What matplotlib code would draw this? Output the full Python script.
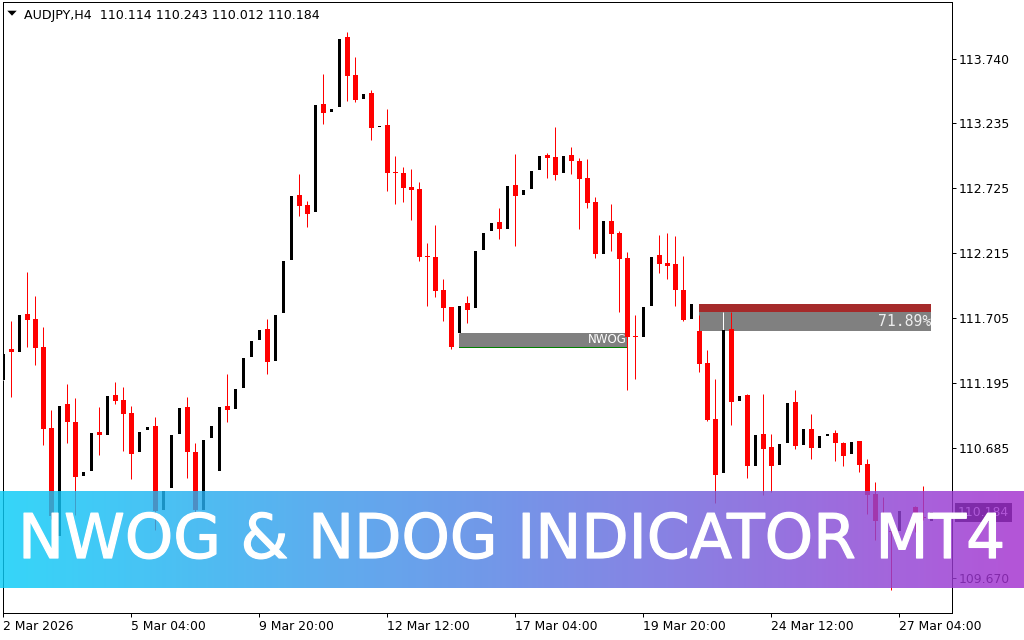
import numpy as np
import matplotlib
matplotlib.use("Agg")
import matplotlib.pyplot as plt
from matplotlib.patches import Rectangle, Polygon
from matplotlib import patheffects

symbol = "AUDJPY,H4"
last_ohlc = [110.114, 110.243, 110.012, 110.184]

# H4 bars (bull wicks are drawn white in MT4, so hidden)
opens = [111.224, 111.465, 111.442, 111.738, 111.700, 111.480, 110.844, 109.998, 111.033, 110.891,
         110.470, 110.511, 110.815, 110.792, 111.102, 111.065, 110.963, 110.659, 110.830, 110.859,
         110.201, 110.375, 110.801, 111.010, 110.659, 110.201, 110.766, 110.511, 111.015, 110.995,
         111.160, 111.404, 111.537, 111.622, 111.372, 111.746, 112.164, 112.671, 112.593, 112.541,
         113.385, 113.324, 113.364, 113.910, 113.611, 113.425, 113.472, 113.209, 113.219, 112.852,
         112.842, 112.735, 112.718, 112.186, 112.184, 111.926, 111.793, 111.590, 111.825, 111.784,
         112.245, 112.393, 112.460, 112.407, 112.750, 112.674, 112.721, 112.869, 112.984, 112.970,
         112.842, 112.984, 112.941, 112.805, 112.616, 112.207, 112.468, 112.376, 112.178, 111.566,
         111.561, 111.804, 112.201, 112.138, 112.129, 111.926, 111.700, 111.604, 111.355, 110.914,
         110.488, 111.622, 111.059, 111.105, 110.549, 110.798, 110.696, 110.557, 110.729, 111.050,
         110.714, 110.836, 110.691, 110.783, 110.804, 110.723, 110.639, 110.743, 110.563, 110.325,
         110.113, 110.035, 110.040, 110.190, 110.221, 110.150, 110.114]
highs = [111.424, 111.682, 111.729, 112.071, 111.880, 111.636, 110.986, 111.015, 111.189, 111.079,
         110.499, 110.804, 111.009, 111.096, 111.204, 111.166, 111.015, 110.812, 110.853, 110.931,
         110.354, 110.790, 111.001, 111.088, 110.728, 110.752, 110.859, 111.010, 111.268, 111.149,
         111.393, 111.526, 111.613, 111.700, 111.729, 112.158, 112.663, 112.837, 112.625, 113.376,
         113.620, 113.344, 113.895, 113.950, 113.753, 113.463, 113.495, 113.213, 113.344, 112.982,
         112.889, 112.874, 112.773, 112.294, 112.436, 112.013, 111.793, 111.801, 111.883, 112.233,
         112.373, 112.454, 112.570, 112.741, 112.993, 112.709, 112.860, 112.976, 112.999, 113.205,
         112.976, 113.048, 112.961, 112.953, 112.654, 112.468, 112.602, 112.390, 112.225, 111.729,
         111.793, 112.184, 112.358, 112.373, 112.349, 112.193, 111.816, 111.735, 111.456, 111.227,
         111.752, 111.752, 111.097, 111.111, 110.789, 111.111, 110.798, 110.720, 111.044, 111.143,
         110.836, 110.954, 110.781, 110.795, 110.830, 110.737, 110.737, 110.743, 110.601, 110.418,
         110.302, 110.040, 110.195, 110.195, 110.235, 110.390, 110.243]
lows = [111.224, 111.091, 111.442, 111.482, 111.340, 110.708, 110.128, 109.998, 110.728, 110.163,
        110.470, 110.511, 110.636, 110.792, 111.036, 110.665, 110.447, 110.659, 110.830, 110.047,
        110.201, 110.375, 110.801, 110.456, 110.157, 110.201, 110.766, 110.511, 110.891, 110.995,
        111.160, 111.404, 111.537, 111.268, 111.372, 111.746, 112.164, 112.506, 112.422, 112.541,
        113.228, 113.324, 113.364, 113.408, 113.399, 113.425, 113.106, 113.209, 112.706, 112.605,
        112.619, 112.477, 112.155, 111.804, 111.874, 111.685, 111.465, 111.590, 111.671, 111.784,
        112.245, 112.393, 112.329, 112.407, 112.274, 112.674, 112.721, 112.869, 112.805, 112.787,
        112.842, 112.836, 112.405, 112.573, 112.178, 112.207, 112.230, 111.755, 111.146, 111.230,
        111.561, 111.804, 112.062, 112.016, 111.804, 111.685, 111.700, 111.285, 110.897, 110.259,
        110.488, 110.870, 111.059, 110.456, 110.549, 110.322, 110.346, 110.557, 110.729, 110.679,
        110.714, 110.604, 110.691, 110.783, 110.589, 110.549, 110.639, 110.496, 110.172, 109.969,
        109.876, 109.570, 110.040, 110.190, 110.032, 110.120, 110.012]
closes = [111.424, 111.439, 111.729, 111.694, 111.474, 110.838, 110.157, 111.015, 110.888, 110.462,
          110.499, 110.804, 110.792, 111.096, 111.056, 110.958, 110.644, 110.812, 110.853, 110.195,
          110.354, 110.790, 111.001, 110.659, 110.201, 110.752, 110.859, 111.010, 110.989, 111.149,
          111.393, 111.526, 111.613, 111.366, 111.729, 112.158, 112.663, 112.587, 112.526, 113.376,
          113.318, 113.344, 113.895, 113.608, 113.419, 113.463, 113.199, 113.213, 112.845, 112.849,
          112.729, 112.712, 112.187, 112.183, 111.920, 111.790, 111.480, 111.801, 111.772, 112.233,
          112.373, 112.454, 112.407, 112.741, 112.666, 112.709, 112.860, 112.976, 112.964, 112.831,
          112.976, 112.938, 112.796, 112.608, 112.207, 112.468, 112.367, 112.170, 111.561, 111.559,
          111.793, 112.184, 112.132, 112.117, 111.929, 111.691, 111.816, 111.349, 110.905, 110.479,
          111.613, 111.050, 111.097, 110.543, 110.789, 110.682, 110.543, 110.720, 111.044, 110.705,
          110.836, 110.685, 110.781, 110.795, 110.723, 110.627, 110.737, 110.557, 110.322, 110.111,
          110.032, 110.025, 110.195, 110.195, 110.134, 110.140, 110.184]

# weekend opening gaps
nwog_bars = (57, 78)
nwog_range = (111.484, 111.590)
gap2_bars = (87, 116)
gap2_range = (111.604, 111.816)
gap2_filled = 71.89

ytick_vals = [113.740, 113.235, 112.725, 112.215, 111.705, 111.195, 110.685, 109.670]
xtick_bars = [0, 16, 32, 48, 64, 80, 96, 112]
xtick_labels = ["2 Mar 2026", "5 Mar 04:00", "9 Mar 20:00", "12 Mar 12:00",
                "17 Mar 04:00", "19 Mar 20:00", "24 Mar 12:00", "27 Mar 04:00"]

banner_text = "NWOG & NDOG INDICATOR MT4"

W, H = 1024, 640
PX = 0.72  # one pixel in points at dpi 100
plt.rcParams["font.family"] = ["DejaVu Sans"]

fig = plt.figure(figsize=(W / 100, H / 100), dpi=100)
ax = fig.add_axes([2.5 / W, 27 / H, 949.5 / W, 611 / H])
ax.set_xlim(-0.1, 118.59)
ax.set_ylim(109.393, 114.187)

o = np.array(opens)
h = np.array(highs)
l = np.array(lows)
c = np.array(closes)
idx = np.arange(len(o))
bull = c >= o
bear = ~bull

# bear candles: red wick + red body
ax.vlines(idx[bear], l[bear], h[bear], colors="red", lw=PX, zorder=3)
ax.bar(idx[bear], np.maximum(o[bear] - c[bear], 0.008), bottom=c[bear], width=0.6,
       color="red", linewidth=0, zorder=4)
# bull candles: white wick, black body
ax.vlines(idx[bull], l[bull], h[bull], colors="white", lw=PX, zorder=3)
ax.bar(idx[bull], c[bull] - o[bull], bottom=o[bull], width=0.4,
       color="black", linewidth=0, zorder=4)

# NWOG box
ax.add_patch(Rectangle((nwog_bars[0], nwog_range[0]), nwog_bars[1] - nwog_bars[0],
                       nwog_range[1] - nwog_range[0], fc="#808080", ec="none", zorder=1))
ax.plot(nwog_bars, [nwog_range[0]] * 2, color="green", lw=PX, zorder=1.5)
ax.text(nwog_bars[1] - 0.1, sum(nwog_range) / 2, "NWOG", ha="right", va="center",
        color="white", fontsize=8.6, zorder=2)

# second gap, partially filled
fill_lvl = gap2_range[0] + gap2_filled / 100 * (gap2_range[1] - gap2_range[0])
ax.add_patch(Rectangle((gap2_bars[0], gap2_range[0]), gap2_bars[1] - gap2_bars[0],
                       fill_lvl - gap2_range[0], fc="#808080", ec="none", zorder=1))
ax.add_patch(Rectangle((gap2_bars[0], fill_lvl), gap2_bars[1] - gap2_bars[0],
                       gap2_range[1] - fill_lvl, fc="#A52A2A", ec="none", zorder=1))
ax.text(gap2_bars[1], (gap2_range[0] + fill_lvl) / 2, f"{gap2_filled:.2f}%", ha="right",
        va="center", color="#EEEEEE", fontsize=10.6, family="DejaVu Sans Mono", zorder=2)

# axes styling
for sp in ax.spines.values():
    sp.set_linewidth(PX)
    sp.set_color("black")
ax.yaxis.tick_right()
ax.set_yticks(ytick_vals)
ax.set_yticklabels([f"{v:.3f}" for v in ytick_vals])
ax.set_xticks(xtick_bars)
ax.set_xticklabels(xtick_labels)
ax.tick_params(axis="y", direction="out", length=4 * PX, width=PX, pad=2.2, labelsize=8.9)
ax.tick_params(axis="x", direction="out", length=4 * PX, width=PX, pad=2.0, labelsize=8.9)
for lab in ax.get_xticklabels():
    lab.set_ha("left")

# current price label on the axis
ax.annotate(f"{last_ohlc[3]:.3f}", xy=(1, last_ohlc[3]), xycoords=ax.get_yaxis_transform(),
            xytext=(6 * PX, 0), textcoords="offset points", ha="left", va="center",
            color="white", fontsize=8.9, annotation_clip=False,
            bbox=dict(boxstyle="square,pad=0.25", fc="black", ec="none"))

# symbol header
fig.text(24 / W, 1 - 18.7 / H,
         f"{symbol}  " + " ".join(f"{v:.3f}" for v in last_ohlc),
         fontsize=9.1, color="black", ha="left", va="baseline")
fig.patches.append(Polygon([(7.3 / W, 1 - 10.7 / H), (16.7 / W, 1 - 10.7 / H), (12 / W, 1 - 15.7 / H)],
                           closed=True, fc="black", ec="none", transform=fig.transFigure, figure=fig))

# gradient banner across the chart
left_col = np.array([9, 205, 248]) / 255
right_col = np.array([164, 47, 207]) / 255
t = np.linspace(0, 1, 512)[None, :, None]
grad = left_col * (1 - t) + right_col * t
bax = fig.add_axes([0, (H - 588.5) / H, 1, 97.5 / H])
bax.imshow(grad, aspect="auto", extent=[0, 1, 0, 1], alpha=0.82)
bax.set_axis_off()
bax.set_zorder(5)

fig.text(18 / W, (H - 558) / H, banner_text, fontsize=44.3, color="white", ha="left",
         va="baseline", zorder=10,
         path_effects=[patheffects.Stroke(linewidth=0.9, foreground="white"), patheffects.Normal()])

fig.savefig("out.png", dpi=100)
